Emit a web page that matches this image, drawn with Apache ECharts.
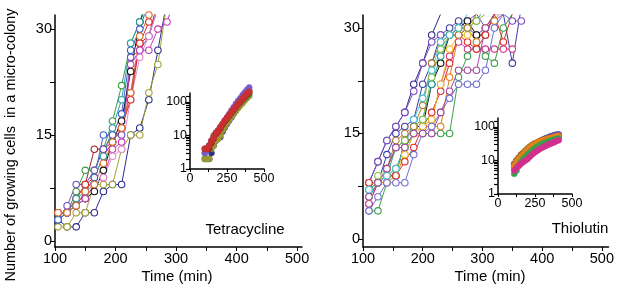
<!DOCTYPE html>
<html><head><meta charset="utf-8">
<script src="https://cdn.jsdelivr.net/npm/echarts@6/dist/echarts.min.js"></script>
<style>html,body{margin:0;padding:0;background:#fff}#c{width:617px;height:288px}</style>
</head><body><div id="c"></div>
<script>
// ---- Tetracycline main panel ----
const tetTimes = [105,120,135,150,165,180,195,210,225,240,255,270,285,300];
const tetNavy    = [3,2,2,4,4,7,8,8,15,16,20,27,34];
const tetOlive   = [2,2,4,4,8,8,8,13,15,15,21,25,34];
const tetDarkRed = [4,4,6,8,13,13,14,16,21,28,29,34];
const tetGreen   = [3,4,7,10,10,13,17,22,28,31,34];
const tetPurple  = [3,5,8,8,10,13,15,15,26,27,29,33];
const tetBlack   = [4,4,5,6,7,10,14,17,24,31,35];
const tetMagenta = [3,4,5,6,8,9,13,14,25,27,27,30,31,35];
const tetPink    = [4,4,5,7,8,9,12,13,20,26,29,33];
const tetRed     = [4,4,6,8,9,12,14,16,20,28,31,34];
const tetTeal    = [3,4,6,7,9,12,16,20,28,31,34];
const tetBlue    = [3,4,5,7,9,15,15,18,27,30,34];
const tetOrange  = [4,4,5,7,8,11,14,16,21,29,32,35];

// ---- Thiolutin main panel ----
const thTimes = [110,125,140,155,170,185,200,215,230,245,260,275,290,305,320,335,350,365];
const thNavy   = [8,11,14,16,18,22,25,29,32,35];
const thNavy2  = [5,8,12,15,16,17,22,25,29,30,31,30,29,30,32,32,25,33];
const thPink   = [5,8,10,13,14,16,16,17,22,26,28,27,27,27,27,27,27];
const thPurple = [8,11,14,16,18,21,25,28,29,29,30,31,32,30,31,32,31,31];
const thBlack  = [7,8,9,9,14,16,16,22,25,29,30,31,29,29,32];
const thGreen  = [4,4,8,10,13,15,15,15,15,15,23,26,28,26,25,30,32];
const thTeal   = [7,8,9,13,14,16,17,22,26,29,29,30,31,33];
const thOrange = [8,8,8,9,12,15,16,16,16,23,29,30,28,30,31,33];
const thRed    = [8,8,9,9,11,13,16,18,21,25,29,28,27,29,32,28,32];
const thGold   = [6,8,9,10,12,15,16,17,22,27,29,29,32];
const thLime   = [7,9,10,13,14,16,17,23,27,29,30,30,31,32];
const thBrown  = [6,8,10,14,15,16,19,25,28,29,29,30,32];
const thCyan   = [7,8,9,10,13,17,20,24,28,29,30,32];
const thViolet = [4,6,8,8,8,12,15,16,18,20,22,22,22,24,30,32];
const thPlum   = [6,8,10,13,13,15,15,15,18,21,24,24,24,30,32];

// ---- Insets (log scale) ----
const tetInsetTimes = [100,115,130,145,160,175,190,205,220,235,250,265,280,295,310,325,340,355,370,385,400];
const tetInNavy    = [2,2,2,3,5,7,8,9,13,17,22,28,35,45,55,68,85,105,130,170,220];
const tetInOlive   = [2,2,2,4,5,7,8,10,14,18,23,29,36,44,54,65,78,92,110,130,150];
const tetInGreen   = [3,4,5,7,10,12,14,17,21,26,31,38,46,56,66,80,95,112,130,150,170];
const tetInPurple  = [3,4,5,7,9,11,14,17,22,28,35,44,56,70,88,108,130,160,190,230,270];
const tetInDarkRed = [4,4,4,6,8,11,13,16,21,26,32,39,48,58,70,85,100,120,140,165,190];
const tetInRed     = [4,4,5,7,9,12,14,18,22,28,33,40,50,60,72,88,105,125,150,175,200];

const thInsetTimes = [110,125,140,155,170,185,200,215,230,245,260,275,290,305,320,335,350,365,380,395,410];
const thInNavy   = [8,10,12,14,16,18,21,24,27,30,33,36,39,42,45,48,51,54,57,59,60];
const thInPurple = [6,8,10,12,14,17,20,23,26,29,32,35,38,41,44,47,50,52,55,57,58];
const thInBrown  = [8,10,12,15,17,20,23,26,29,32,34,37,39,41,43,45,47,49,50,52,53];
const thInOrange = [7,9,11,13,15,18,21,24,27,30,33,36,38,40,42,44,46,48,50,52,54];
const thInGreen  = [4,5,7,9,11,13,15,17,20,22,25,27,30,32,34,36,38,40,42,44,45];
const thInPink   = [5,6,7,8,9,10,11,13,15,17,19,21,23,25,27,29,31,33,35,38,40];

// ---- Axis ticks / labels ----
const mainXTicks = [100,150,200,250,300,350,400,450,500];
const mainXLabels = [100,200,300,400,500];
const mainYTicks = [0,7.5,15,22.5,30];
const mainYLabels = [0,15,30];
const insetXTicks = [0,125,250,375,500];
const insetXLabels = [0,250,500];
const insetYTicks = [1,2,3,4,5,6,7,8,9,10,20,30,40,50,60,70,80,90,100,150];
const insetYLabels = [1,10,100];

const FONT = 'Liberation Sans, Arial, sans-serif';

function pairs(ts, vs){ const out=[]; for(let i=0;i<vs.length;i++){ if(vs[i]!=null) out.push([ts[i], vs[i]]);} return out; }

function mainSeries(idx, ts, vs, color){
  return {type:'line', xAxisIndex:idx, yAxisIndex:idx, data:pairs(ts,vs), symbol:'circle', symbolSize:6.5,
    showSymbol:true, clip:true, lineStyle:{color, width:1}, itemStyle:{color:'#fff', borderColor:color, borderWidth:1.1},
    emphasis:{disabled:true}, z:2};
}
function insetSeries(idx, ts, vs, color){
  return {type:'line', xAxisIndex:idx, yAxisIndex:idx, data:pairs(ts,vs), symbol:'circle', symbolSize:6,
    showSymbol:true, clip:false, lineStyle:{color, width:2}, itemStyle:{color, borderColor:color, borderWidth:0.5},
    emphasis:{disabled:true}, z:4};
}

function xAxisMain(gi, max){
  return {type:'value', gridIndex:gi, min:100, max,
    axisLine:{show:true, onZero:false, lineStyle:{color:'#000', width:1.5}},
    axisTick:{show:true, length:4, customValues:mainXTicks, lineStyle:{color:'#000', width:1}},
    axisLabel:{customValues:mainXLabels, fontSize:14.5, color:'#000', margin:4, fontFamily:FONT},
    splitLine:{show:false}};
}
function yAxisMain(gi, min, max){
  return {type:'value', gridIndex:gi, min, max,
    axisLine:{show:true, onZero:false, lineStyle:{color:'#000', width:1.5}},
    axisTick:{show:true, length:5, customValues:mainYTicks, lineStyle:{color:'#000', width:1}},
    axisLabel:{customValues:mainYLabels, fontSize:14.5, color:'#000', margin:3, fontFamily:FONT},
    splitLine:{show:false}};
}
function xAxisInset(gi){
  return {type:'value', gridIndex:gi, min:0, max:500,
    axisLine:{show:true, onZero:false, lineStyle:{color:'#000', width:1.5}},
    axisTick:{show:true, length:3, customValues:insetXTicks, lineStyle:{color:'#000'}},
    axisLabel:{customValues:insetXLabels, fontSize:12.5, color:'#000', margin:3, fontFamily:FONT},
    splitLine:{show:false}};
}
function yAxisInset(gi){
  return {type:'log', logBase:10, gridIndex:gi, min:1, max:185,
    axisLine:{show:true, onZero:false, lineStyle:{color:'#000', width:1.5}},
    axisTick:{show:true, length:4, customValues:insetYTicks, lineStyle:{color:'#000', width:1.2}},
    axisLabel:{customValues:insetYLabels, fontSize:12.5, color:'#000', margin:3, fontFamily:FONT},
    splitLine:{show:false}};
}

const series = [
  mainSeries(0, tetTimes, tetNavy, '#2b2f8c'),
  mainSeries(0, tetTimes, tetOlive, '#a3a236'),
  mainSeries(0, tetTimes, tetDarkRed, '#a3201c'),
  mainSeries(0, tetTimes, tetGreen, '#3f9a48'),
  mainSeries(0, tetTimes, tetPurple, '#7050c0'),
  mainSeries(0, tetTimes, tetBlack, '#111111'),
  mainSeries(0, tetTimes, tetMagenta, '#c03cb8'),
  mainSeries(0, tetTimes, tetPink, '#e488d0'),
  mainSeries(0, tetTimes, tetRed, '#e02828'),
  mainSeries(0, tetTimes, tetTeal, '#2aa0a0'),
  mainSeries(0, tetTimes, tetBlue, '#4060c8'),
  mainSeries(0, tetTimes, tetOrange, '#d8702a'),

  mainSeries(1, thTimes, thNavy, '#2a2a8a'),
  mainSeries(1, thTimes, thNavy2, '#3c3ca6'),
  mainSeries(1, thTimes, thPink, '#d03c8c'),
  mainSeries(1, thTimes, thPurple, '#7a4cc0'),
  mainSeries(1, thTimes, thBlack, '#111111'),
  mainSeries(1, thTimes, thGreen, '#3aa04a'),
  mainSeries(1, thTimes, thTeal, '#2aa0a0'),
  mainSeries(1, thTimes, thOrange, '#e0801a'),
  mainSeries(1, thTimes, thRed, '#e02a2a'),
  mainSeries(1, thTimes, thGold, '#f0c020'),
  mainSeries(1, thTimes, thLime, '#80c040'),
  mainSeries(1, thTimes, thBrown, '#b07a30'),
  mainSeries(1, thTimes, thCyan, '#40c0d8'),
  mainSeries(1, thTimes, thViolet, '#7070d0'),
  mainSeries(1, thTimes, thPlum, '#a04aa0'),

  insetSeries(2, tetInsetTimes, tetInNavy, '#2b2f8c'),
  insetSeries(2, tetInsetTimes, tetInOlive, '#9a9a30'),
  insetSeries(2, tetInsetTimes, tetInGreen, '#3f9a48'),
  insetSeries(2, tetInsetTimes, tetInPurple, '#7a5cc8'),
  insetSeries(2, tetInsetTimes, tetInDarkRed, '#a02020'),
  insetSeries(2, tetInsetTimes, tetInRed, '#c83030'),

  insetSeries(3, thInsetTimes, thInNavy, '#2a2a8a'),
  insetSeries(3, thInsetTimes, thInPurple, '#7a4cc0'),
  insetSeries(3, thInsetTimes, thInBrown, '#a06a28'),
  insetSeries(3, thInsetTimes, thInOrange, '#e0801a'),
  insetSeries(3, thInsetTimes, thInGreen, '#3aa04a'),
  insetSeries(3, thInsetTimes, thInPink, '#d0308c'),
];

const chart = echarts.init(document.getElementById('c'), null, {renderer:'canvas'});
chart.setOption({
  animation:false,
  backgroundColor:'#fff',
  grid:[
    {left:55, top:15, width:247, height:232},
    {left:363, top:15, width:247, height:232},
    {left:190, top:93, width:74, height:76},
    {left:498, top:118, width:74, height:76}
  ],
  xAxis:[xAxisMain(0,508), xAxisMain(1,511), xAxisInset(2), xAxisInset(3)],
  yAxis:[yAxisMain(0,-0.85,32), yAxisMain(1,-1.14,31.85), yAxisInset(2), yAxisInset(3)],
  series,
  graphic:[
    {type:'text', x:11, y:145, rotation:Math.PI/2,
      style:{text:'Number of growing cells  in a micro-colony', x:0, y:0, font:'14.5px '+FONT, fill:'#000',
        textAlign:'center', textVerticalAlign:'middle', align:'center', verticalAlign:'middle'}},
    {type:'text', style:{text:'Time (min)', x:177, y:277, font:'15px '+FONT, fill:'#000',
        textAlign:'center', textVerticalAlign:'middle', align:'center', verticalAlign:'middle'}},
    {type:'text', style:{text:'Time (min)', x:490, y:277, font:'15px '+FONT, fill:'#000',
        textAlign:'center', textVerticalAlign:'middle', align:'center', verticalAlign:'middle'}},
    {type:'text', style:{text:'Tetracycline', x:245, y:230, font:'15px '+FONT, fill:'#000',
        textAlign:'center', textVerticalAlign:'middle', align:'center', verticalAlign:'middle'}},
    {type:'text', style:{text:'Thiolutin', x:580, y:229, font:'15px '+FONT, fill:'#000',
        textAlign:'center', textVerticalAlign:'middle', align:'center', verticalAlign:'middle'}}
  ]
});
</script>
</body></html>
